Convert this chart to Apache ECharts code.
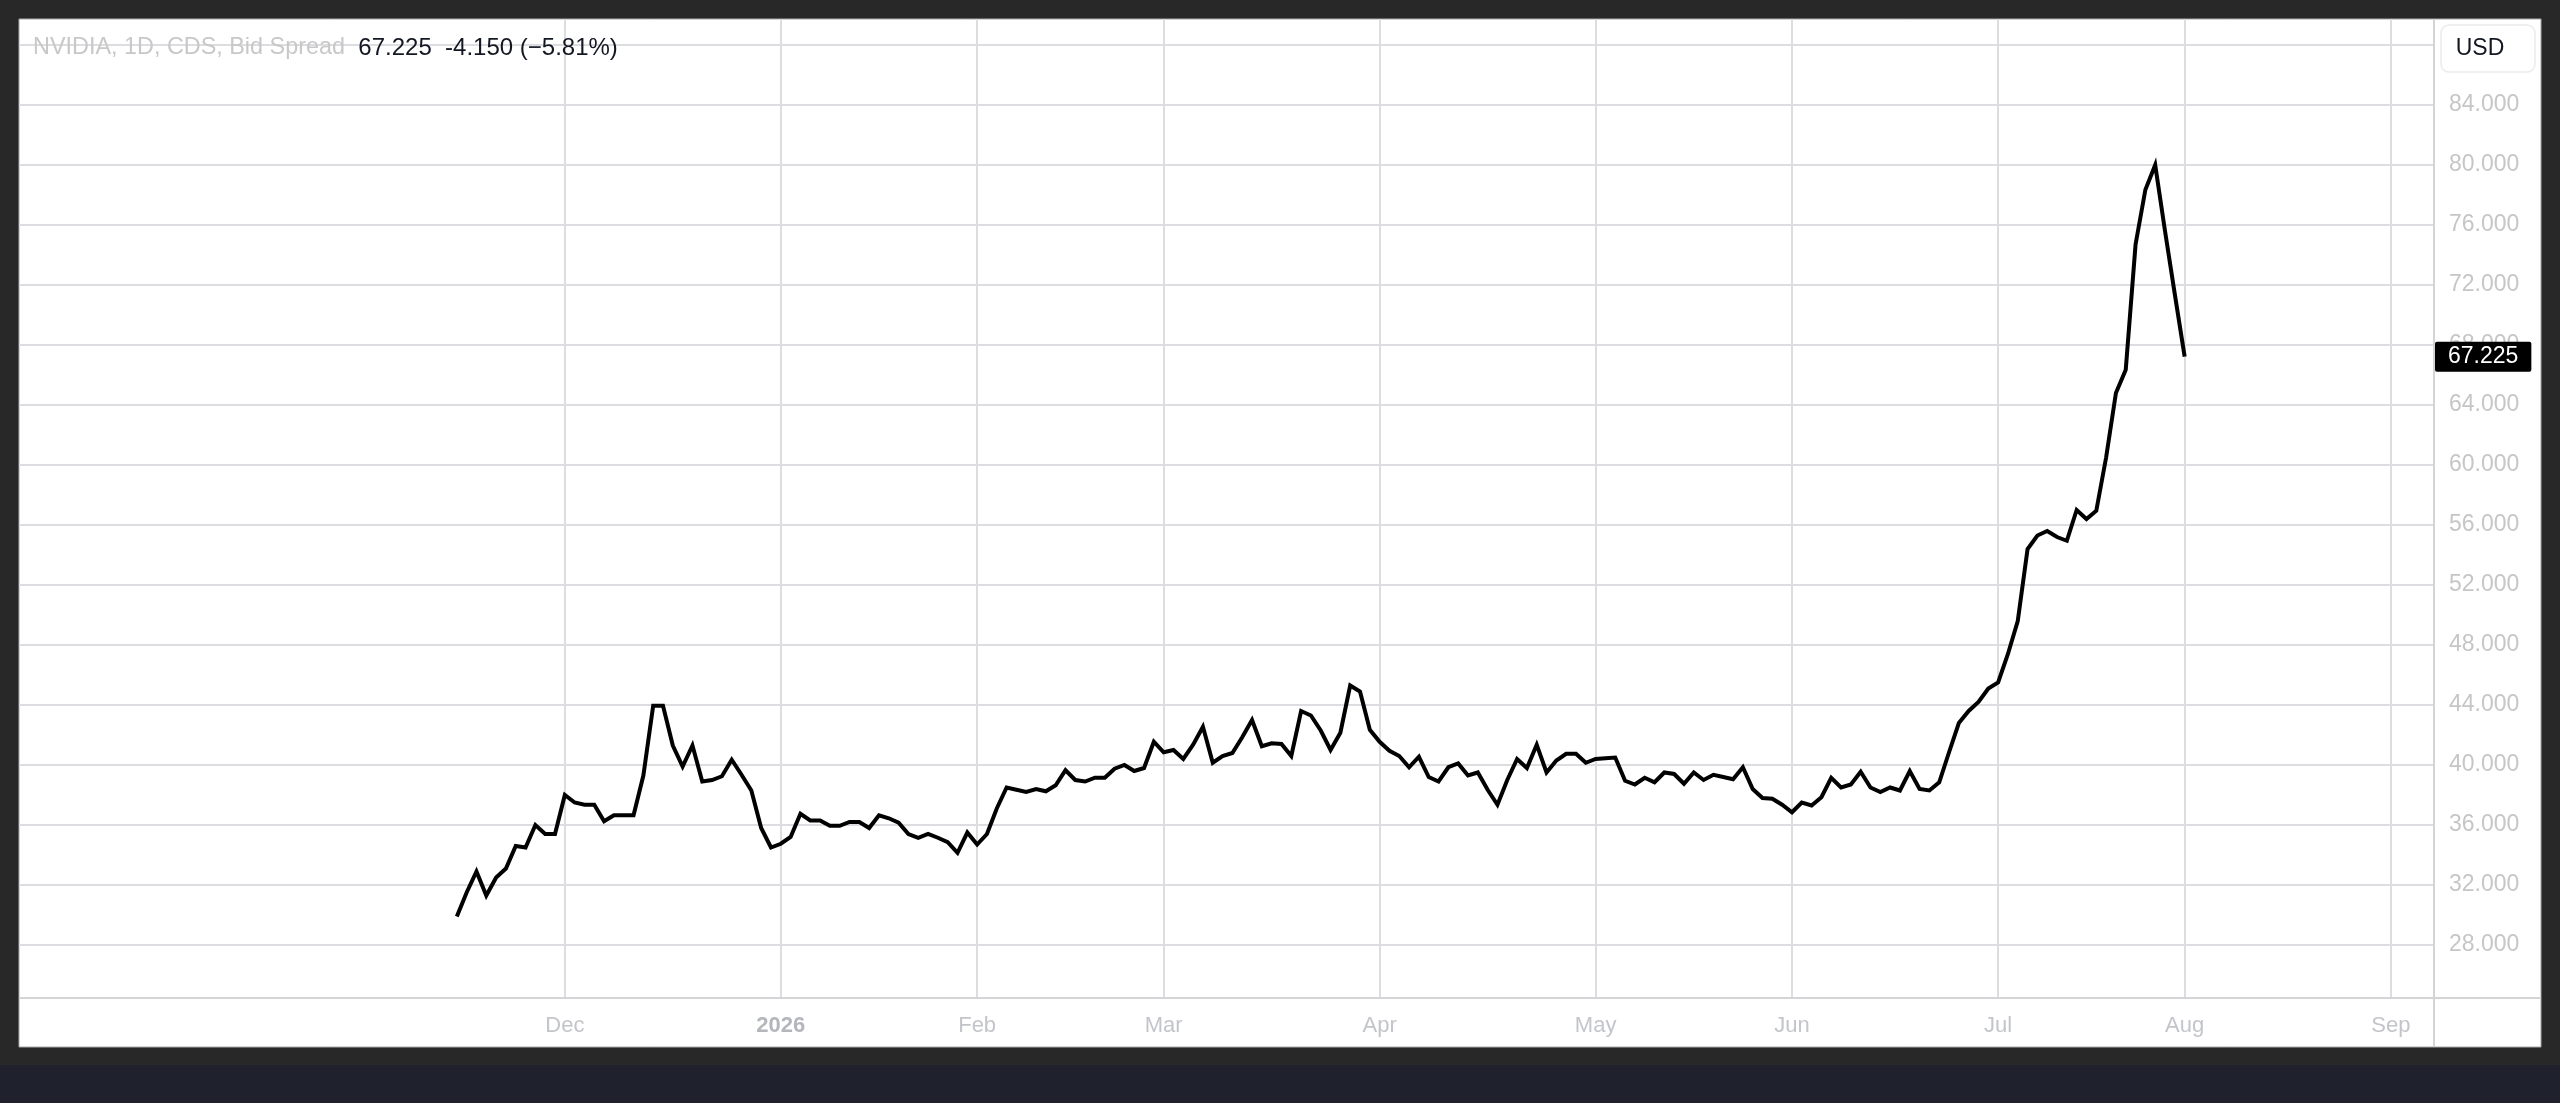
<!DOCTYPE html>
<html><head><meta charset="utf-8">
<script src="https://cdn.jsdelivr.net/npm/echarts@6/dist/echarts.min.js"></script>
<style>html,body{margin:0;padding:0;background:#282828;overflow:hidden}#c{width:2560px;height:1103px}</style>
</head><body><div id="c"></div>
<script>
// trading-day index of the first point (0 = first trading day of Dec 2025)
const startIndex = -11;
// NVIDIA 1D CDS bid spread, one value per trading day
const spreadValues = [
  29.9, 31.5, 32.9, 31.3, 32.5, 33.1, 34.6, 34.5, 36.0, 35.4, 35.4,
  38.0, 37.5, 37.35, 37.35, 36.25, 36.65, 36.65, 36.65, 39.3, 43.95, 43.95, 41.3, 39.9, 41.3, 38.9, 39.0, 39.25, 40.35, 39.35, 38.3, 35.8, 34.5,
  34.75, 35.2, 36.75, 36.3, 36.3, 35.95, 35.95, 36.2, 36.2, 35.8, 36.65, 36.45, 36.15, 35.4, 35.15, 35.4, 35.15, 34.85, 34.15, 35.5,
  34.7, 35.4, 37.1, 38.5, 38.35, 38.2, 38.4, 38.25, 38.65, 39.65, 39.0, 38.9, 39.15, 39.15, 39.75, 40.0, 39.6, 39.8, 41.55,
  40.85, 41.0, 40.4, 41.35, 42.55, 40.15, 40.6, 40.8, 41.85, 43.0, 41.25, 41.45, 41.4, 40.6, 43.6, 43.3, 42.3, 41.0, 42.15, 45.3, 44.9, 42.35,
  41.55, 40.95, 40.6, 39.85, 40.55, 39.2, 38.9, 39.85, 40.1, 39.3, 39.5, 38.35, 37.35, 39.0, 40.4, 39.8, 41.35, 39.5, 40.3, 40.75, 40.75, 40.15,
  40.4, 40.45, 40.5, 38.95, 38.7, 39.15, 38.85, 39.5, 39.4, 38.75, 39.5, 39.0, 39.35, 39.2, 39.05, 39.85, 38.4, 37.8, 37.75, 37.35,
  36.85, 37.5, 37.3, 37.85, 39.15, 38.5, 38.7, 39.55, 38.5, 38.2, 38.5, 38.3, 39.6, 38.4, 38.3, 38.85, 40.85, 42.8, 43.6, 44.2, 45.1,
  45.5, 47.4, 49.6, 54.4, 55.3, 55.6, 55.2, 54.95, 57.0, 56.4, 56.95, 60.5, 64.8, 66.35, 74.7, 78.35, 80.0, 75.6, 71.375,
  67.225
];
// month boundaries (trading-day index) and their labels
const monthTickIdx = [0, 22, 42, 61, 83, 105, 125, 146, 165, 186];
const monthLabels  = ['Dec', '2026', 'Feb', 'Mar', 'Apr', 'May', 'Jun', 'Jul', 'Aug', 'Sep'];
// price scale
const yGridTicks  = [28, 32, 36, 40, 44, 48, 52, 56, 60, 64, 68, 72, 76, 80, 84, 88];
const yLabelTicks = [28, 32, 36, 40, 44, 48, 52, 56, 60, 64, 68, 72, 76, 80, 84];
const titleText = 'NVIDIA, 1D, CDS, Bid Spread';
const currency = 'USD';

const FONT = '"Liberation Sans", Arial, sans-serif';
const last = spreadValues[spreadValues.length - 1];
const prev = spreadValues[spreadValues.length - 2];
const chg = last - prev;
const pct = chg / prev * 100;
const headerValues = last.toFixed(3) + '  ' + chg.toFixed(3) + ' (' + (pct < 0 ? '\u2212' : '+') + Math.abs(pct).toFixed(2) + '%)';

const seriesData = spreadValues.map((v, i) => [startIndex + i, v]);

const chart = echarts.init(document.getElementById('c'), null, {renderer: 'canvas'});
const gridCol = '#dcdde0';
chart.setOption({
  animation: false,
  backgroundColor: 'transparent',
  graphic: [
    {type: 'rect', z: -10, silent: true, shape: {x: 0, y: 1065, width: 2560, height: 38}, style: {fill: '#1f222c'}},
    {type: 'rect', z: -10, silent: true, shape: {x: 19, y: 19, width: 2522, height: 1028}, style: {fill: '#ffffff', stroke: '#a8a8a8', lineWidth: 1}},
    {type: 'line', z: 5, silent: true, shape: {x1: 19, y1: 998, x2: 2541, y2: 998}, style: {stroke: '#d4d4d6', lineWidth: 2}},
    {type: 'line', z: 5, silent: true, shape: {x1: 2434, y1: 19, x2: 2434, y2: 1047}, style: {stroke: '#d4d4d6', lineWidth: 2}},
    {type: 'text', z: 10, silent: true, x: 33, y: 48, style: {
      text: '{a|' + titleText + '}  {b|' + headerValues + '}',
      verticalAlign: 'middle', font: '24px ' + FONT,
      rich: {a: {fill: '#c8c8c8', fontSize: 23.4, fontFamily: FONT}, b: {fill: '#131722', fontSize: 24, fontFamily: FONT}}
    }},
    {type: 'rect', z: 10, silent: true, shape: {x: 2441, y: 25, width: 94, height: 47, r: 8}, style: {fill: '#ffffff', stroke: '#ebebeb', lineWidth: 1.5}},
    {type: 'text', z: 11, silent: true, x: 2480, y: 49, style: {text: currency, align: 'center', verticalAlign: 'middle', fill: '#131722', font: '23px ' + FONT}}
  ],
  grid: {left: 19, right: 126, top: 19, bottom: 105, containLabel: false},
  xAxis: {
    type: 'value', min: -55.6, max: 190.4,
    axisLine: {show: false}, axisTick: {show: false, customValues: monthTickIdx},
    splitLine: {show: true, lineStyle: {color: gridCol, width: 2}},
    axisLabel: {
      customValues: monthTickIdx, margin: 17, fontSize: 22, fontFamily: FONT, color: '#c3c5ca',
      formatter: v => { const k = monthTickIdx.indexOf(v); const s = k >= 0 ? monthLabels[k] : ''; return /^\d{4}$/.test(s) ? '{y|' + s + '}' : s; },
      rich: {y: {fontWeight: 'bold', fontSize: 22, fontFamily: FONT, color: '#b4b6bb'}}
    }
  },
  yAxis: {
    type: 'value', position: 'right', min: 24.467, max: 89.733,
    axisLine: {show: false}, axisTick: {show: false, customValues: yGridTicks},
    splitLine: {show: true, lineStyle: {color: gridCol, width: 2}},
    axisLabel: {customValues: yLabelTicks, margin: 15, fontSize: 23, fontFamily: FONT, color: '#c6c6c6', align: 'left',
      formatter: v => v.toFixed(3)}
  },
  series: [{
    type: 'line', data: seriesData, showSymbol: false, symbol: 'none', clip: false,
    lineStyle: {color: '#000000', width: 4, join: 'miter'},
    z: 3,
    markLine: {
      silent: true, symbol: ['none', 'none'],
      lineStyle: {color: 'rgba(0,0,0,0)', width: 1, type: 'solid'},
      data: [{yAxis: last}],
      label: {show: true, position: 'end', distance: 1, formatter: last.toFixed(3),
        backgroundColor: '#000000', color: '#ffffff', fontSize: 23, fontFamily: FONT,
        padding: [4, 13, 3, 13], borderRadius: 2}
    }
  }]
});
</script></body></html>
